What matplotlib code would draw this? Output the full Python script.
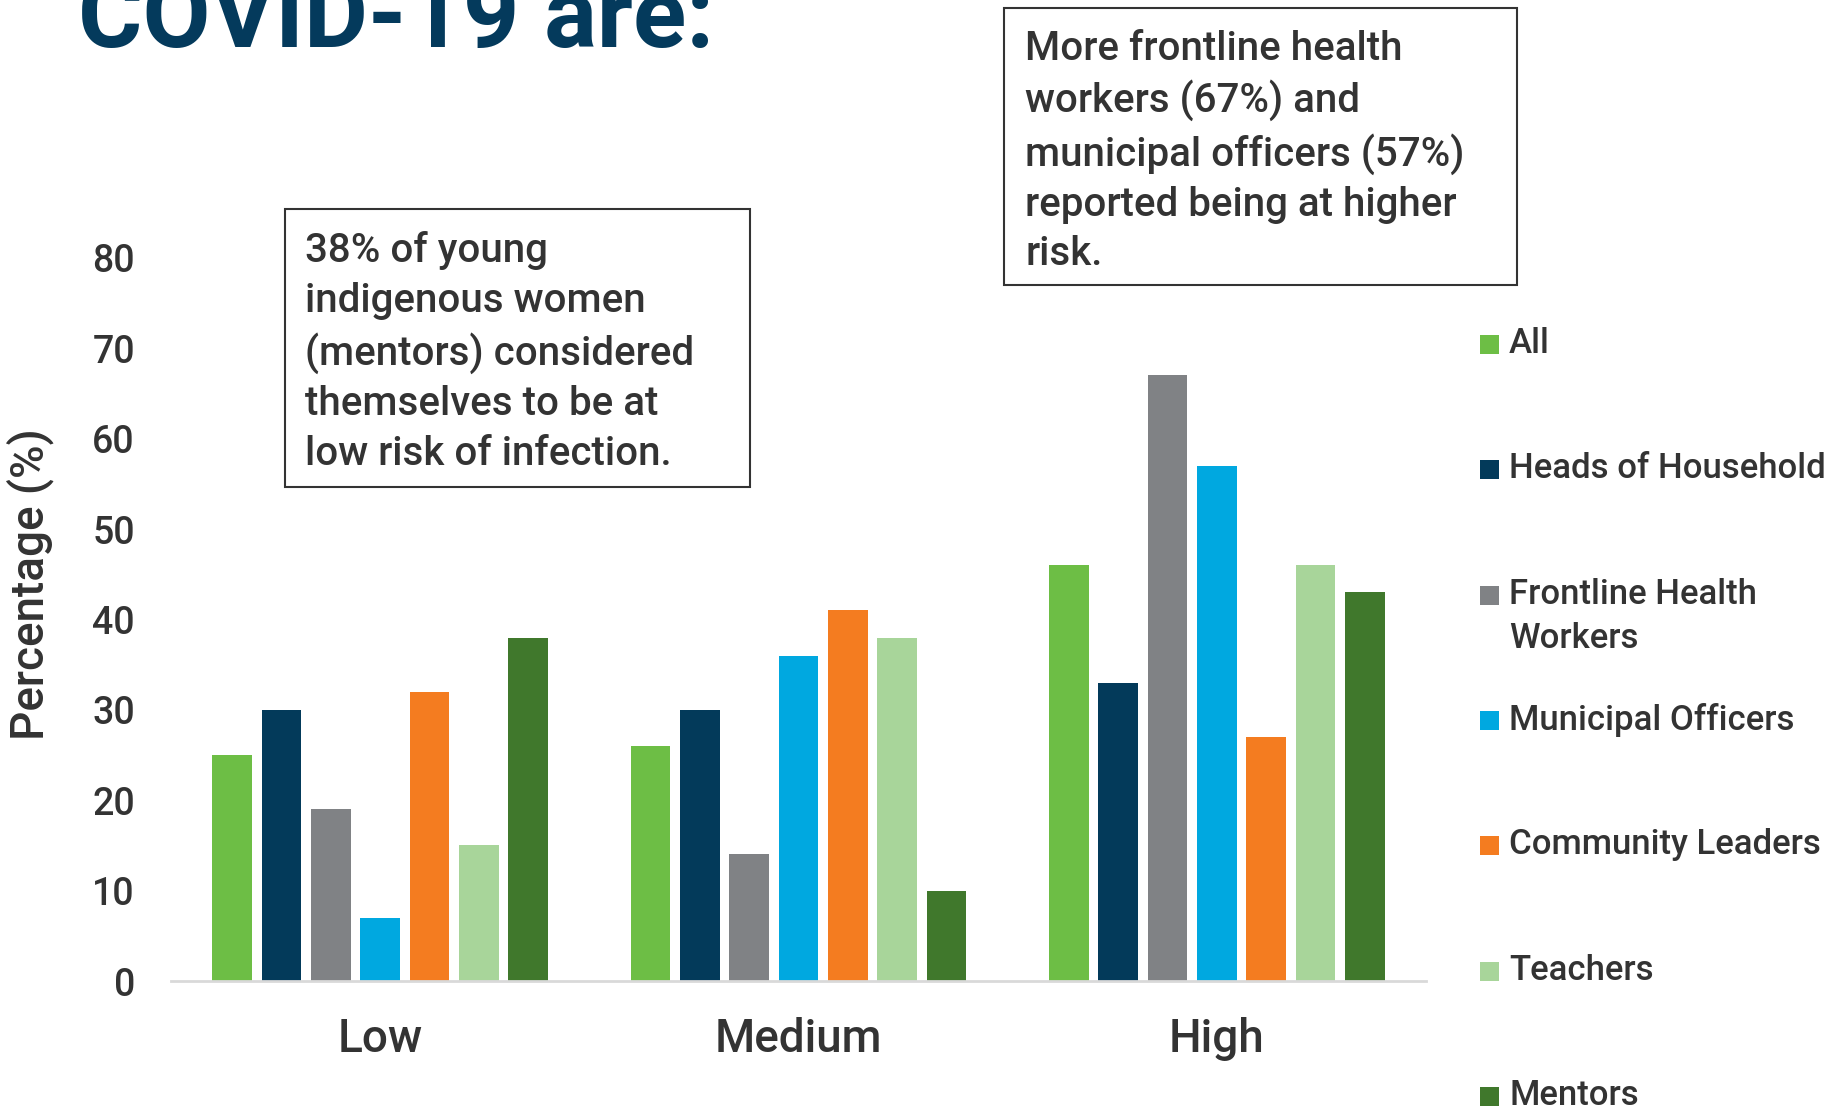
import matplotlib
matplotlib.use("Agg")
import matplotlib.pyplot as plt
from matplotlib.patches import Rectangle
import numpy as np

plt.rcParams['font.family'] = ['Roboto', 'DejaVu Sans']

categories = ["Low", "Medium", "High"]
series = ["All", "Heads of Household", "Frontline Health\nWorkers",
          "Municipal Officers", "Community Leaders", "Teachers", "Mentors"]
values = {
    "All": [25, 26, 46],
    "Heads of Household": [30, 30, 33],
    "Frontline Health\nWorkers": [19, 14, 67],
    "Municipal Officers": [7, 36, 57],
    "Community Leaders": [32, 41, 27],
    "Teachers": [15, 38, 46],
    "Mentors": [38, 10, 43],
}
colors = ["#6DBE45", "#033A5A", "#808285", "#00A8E0", "#F47C20", "#A8D59A", "#40782C"]
yticks = [0, 10, 20, 30, 40, 50, 60, 70, 80]

title = "COVID-19 are:"
note1 = ("38% of young\nindigenous women\n(mentors) considered\n"
         "themselves to be at\nlow risk of infection.")
note2 = ("More frontline health\nworkers (67%) and\nmunicipal officers (57%)\n"
         "reported being at higher\nrisk.")

TXT = "#333333"
W, H = 1845, 1110
fig = plt.figure(figsize=(W / 100, H / 100), dpi=100)

def fx(px):
    return px / W

def fy(py):
    return 1 - py / H

ax = fig.add_axes([fx(171), fy(981), fx(1426) - fx(171), fy(258) - fy(981)])

x = np.arange(len(categories))
slot = 0.118
bw = 0.095
for i, (name, c) in enumerate(zip(series, colors)):
    ax.bar(x + (i - 3) * slot, values[name], width=bw, color=c, zorder=2)

ax.set_xlim(-0.5, 2.5)
ax.set_ylim(0, 80)
ax.set_yticks(yticks)
ax.set_yticklabels([str(v) for v in yticks])
ax.set_xticks(x)
ax.set_xticklabels(categories)
for s in ["top", "right", "left"]:
    ax.spines[s].set_visible(False)
ax.spines["bottom"].set_color("#D9D9D9")
ax.spines["bottom"].set_linewidth(2)
ax.tick_params(axis="y", length=0, pad=26, labelsize=27, labelcolor=TXT)
ax.tick_params(axis="x", length=0, pad=26, labelsize=33, labelcolor=TXT)
for lab in ax.get_xticklabels() + ax.get_yticklabels():
    lab.set_fontweight("medium")

fig.text(fx(30), fy(584), "Percentage (%)", rotation=90, ha="center", va="center",
         fontsize=33, color=TXT, fontweight="medium")

# Title (cut off at the top, as in the reference)
fig.text(fx(78), fy(47), title, ha="left", va="baseline", fontsize=71,
         color="#043A5C", fontweight="bold")

# Annotation boxes
for (x0, y0, x1, y1), txt, tx, ty, ls in [((285, 209, 750, 487), note1, 305, 231, 1.385),
                                           ((1004, 8, 1517, 285), note2, 1025, 30, 1.36)]:
    fig.patches.append(Rectangle((fx(x0), fy(y1)), fx(x1) - fx(x0), fy(y0) - fy(y1),
                                 transform=fig.transFigure, fill=False,
                                 edgecolor="#333333", linewidth=1.5))
    fig.text(fx(tx), fy(ty), txt, ha="left", va="top", fontsize=29, color=TXT,
             fontweight="medium", linespacing=ls)

# Legend
leg_y0, leg_step = 344, 125.3
for i, (name, c) in enumerate(zip(series, colors)):
    yc = leg_y0 + i * leg_step
    fig.patches.append(Rectangle((fx(1480), fy(yc + 10)), fx(19), 19 / H,
                                 transform=fig.transFigure, facecolor=c, edgecolor="none"))
    fig.text(fx(1509), fy(yc - 17), name, ha="left", va="top", fontsize=25,
             color=TXT, fontweight="medium", linespacing=1.43)

fig.savefig("out.png", dpi=100)
